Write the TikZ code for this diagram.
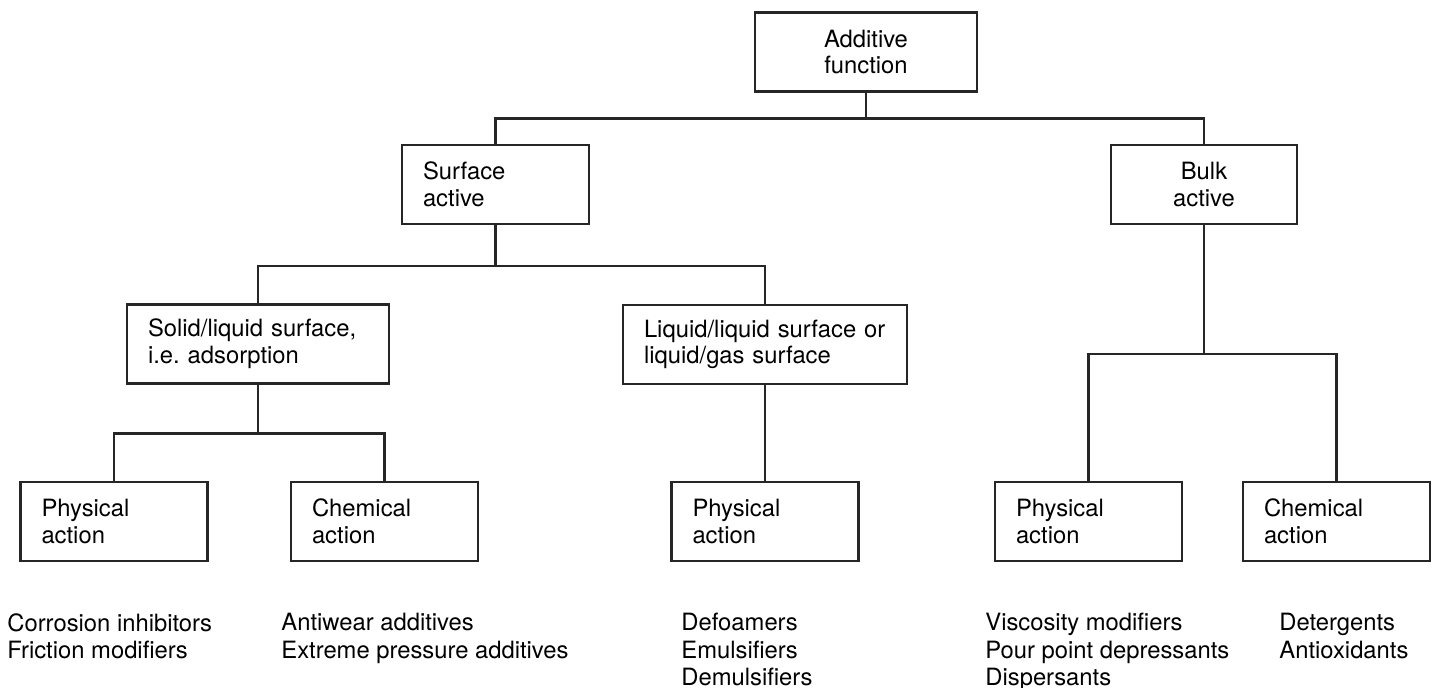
\documentclass[tikz,border=0pt]{standalone}
\usepackage{fontspec}
\setmainfont{TeX Gyre Heros}
\usetikzlibrary{positioning}

\begin{document}
\begin{tikzpicture}[x=0.5pt, y=-0.5pt,
  lbox/.style={draw=black!85, line width=1.25pt, minimum height=39.5pt,
    inner xsep=10.5pt, inner ysep=0pt, text width=#1, align=left,
    font=\fontsize{11.9}{13.3}\selectfont},
  cbox/.style={lbox=#1, align=center},
  items/.style={inner sep=0pt, align=left, anchor=north west,
    font=\fontsize{11.9}{13.75}\selectfont},
  link/.style={draw=black!85, line width=1.25pt}]
\useasboundingbox (0,0) rectangle (1437,688);

\node (add) at (866,52) [cbox=90pt] {Additive\\function};
\node (surf) at (495.5,184.5) [lbox=72.5pt] {Surface\\active};
\node (bulk) at (1204,184.5) [cbox=72pt] {Bulk\\active};
\node (solid) at (258,344) [lbox=110pt] {Solid/liquid surface,\\i.e.\ adsorption};
\node (liquid) at (765,344.5) [lbox=121pt] {Liquid/liquid surface or\\liquid/gas surface};
\node (phys1) at (114,521.5) [lbox=72.5pt] {Physical\\action};
\node (chem1) at (384.5,521.5) [lbox=72.5pt] {Chemical\\action};
\node (phys2) at (765,521.5) [lbox=72.5pt] {Physical\\action};
\node (phys3) at (1088.5,521.5) [lbox=72.5pt] {Physical\\action};
\node (chem3) at (1336.5,521.5) [lbox=72.5pt] {Chemical\\action};

\draw [link] (add.south) -- ++(0,26) -| (surf.north);
\draw [link] (add.south) -- ++(0,26) -| (bulk.north);
\draw [link] (surf.south) -- ++(0,41) -| (solid.north);
\draw [link] (surf.south) -- ++(0,41) -| (liquid.north);
\draw [link] (solid.south) -- ++(0,49) -| (phys1.north);
\draw [link] (solid.south) -- ++(0,49) -| (chem1.north);
\draw [link] (liquid.south) -- (phys2.north);
\draw [link] (bulk.south) -- ++(0,129) -| (phys3.north);
\draw [link] (bulk.south) -- ++(0,129) -| (chem3.north);

\node (lst1) at (7,613) [items] {Corrosion inhibitors\\Friction modifiers};
\node (lst2) at (281,613) [items] {Antiwear additives\\Extreme pressure additives};
\node (lst3) at (681,613) [items] {Defoamers\\Emulsifiers\\Demulsifiers};
\node (lst4) at (985,613) [items] {Viscosity modifiers\\Pour point depressants\\Dispersants};
\node (lst5) at (1279,613) [items] {Detergents\\Antioxidants};
\end{tikzpicture}
\end{document}
